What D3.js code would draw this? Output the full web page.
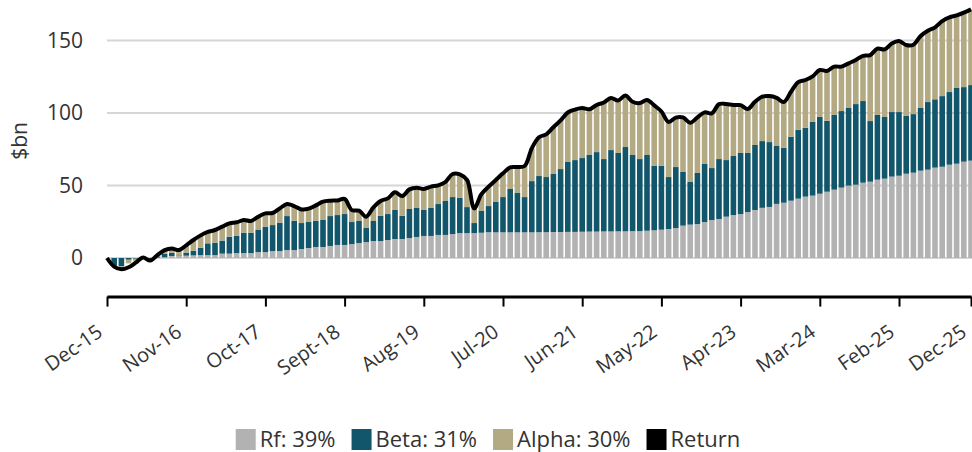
<!DOCTYPE html>
<html>
<head>
<meta charset="utf-8">
<script src="https://cdn.jsdelivr.net/npm/d3@7"></script>
<style>
    body { margin: 0; background: #fff; }
    text { font-family: "Open Sans", sans-serif; fill: #333; }
</style>
</head>
<body>
<svg id="chart" width="972" height="452"></svg>
<script>
// monthly, Dec-15 .. Dec-25 ($bn, cumulative)
var months = d3.timeMonth.range(new Date(2015, 11, 1), new Date(2026, 0, 1));

var rf = [0, 0, 0, 0, 0, 0.1, 0.2, 0.3, 0.5, 1.4,
    1.4, 1.6, 1.8, 2, 2, 2, 3, 3, 3.4, 3.4,
    3.4, 4.1, 4.1, 4.8, 4.8, 5.5, 5.5, 6.2, 6.9, 7.6,
    7.6, 8.3, 9, 9, 9.6, 10.3, 11, 11.7, 11.7, 12.4,
    13.1, 13.1, 13.8, 14.5, 15.2, 15.2, 15.9, 15.9, 16.5, 17.2,
    17.2, 17.2, 17.4, 17.8, 17.7, 17.7, 17.7, 17.7, 17.7, 17.7,
    17.8, 17.8, 17.9, 17.9, 18, 18, 18.1, 18.2, 18.2, 18.3,
    18.3, 18.4, 18.4, 18.5, 18.6, 18.8, 19.1, 19.5, 20, 20.6,
    22.3, 23, 23.4, 24.8, 26.2, 26.9, 28.5, 29.6, 30.3, 31.7,
    33.1, 34.6, 35.2, 37.3, 38.1, 39.5, 40.9, 42.3, 43, 44.3,
    45.7, 47.1, 48.5, 49.9, 50.5, 51.9, 52.6, 54, 54.7, 56.1,
    56.7, 58.1, 58.8, 60.2, 60.9, 62.3, 62.9, 64.3, 65, 66.4,
    67.1];

var beta = [0, -5.3, -5.8, -1.2, -0.5, 0.1, -1, 0.8, 2.3, 2.3,
    0.4, 2.1, 3.2, 5.1, 8.1, 8.6, 9, 11.7, 11.8, 14.1,
    14.1, 15.2, 17.5, 17.9, 19.6, 23.4, 20.1, 17.9, 17.9, 18.1,
    18.6, 20.6, 20.6, 21.3, 15.2, 15.2, 9.7, 13.8, 17.5, 17.9,
    20, 16.1, 20, 20, 17.9, 19.3, 21.3, 23.4, 25.5, 24.2,
    17.9, 6.9, 15, 18, 20.9, 24.3, 29.9, 27.1, 24.3, 35.3,
    38.7, 38, 40, 43.4, 48.2, 49.5, 50.8, 52.8, 54.8, 49.9,
    56.1, 54, 58.1, 52.5, 49.6, 52.2, 44.4, 44, 35.8, 42.1,
    37, 29.4, 35.2, 40, 35.8, 41.3, 39, 40.7, 42.1, 40.7,
    44.8, 46, 44.7, 39.9, 37.9, 44.1, 47.5, 47.5, 51, 53.1,
    48.9, 51.5, 52.8, 53.5, 55.6, 56.3, 41.8, 44.6, 42.5, 44.5,
    43.9, 39.8, 40.4, 43.2, 46.6, 47.1, 48.7, 50.1, 52.2, 51.4,
    52.1];

var alpha = [0, -0.7, -2, -2.5, -1.5, 0.1, -0.6, 0.9, 2.6, 2.9,
    3.7, 5, 7.4, 8.5, 7.9, 8.7, 9.6, 9.2, 9.4, 8.7,
    8, 9.2, 9.2, 8.3, 9.8, 8.3, 10.2, 9.4, 9.2, 10.6,
    12.6, 10.6, 10.1, 10.4, 8.2, 7.1, 7.8, 9.4, 10.1, 10.8,
    12.2, 13.5, 13.5, 14, 14.5, 14.7, 12.9, 13.1, 15.9, 16.3,
    18.7, 10.1, 11.6, 13.4, 15.2, 16.4, 14.9, 17.9, 21.4, 22.6,
    26.7, 29.4, 32.2, 33.5, 34.1, 34.8, 34.5, 31.5, 32.5, 39,
    35.9, 36.2, 35.5, 36.7, 38.6, 37.9, 41.7, 37.5, 38, 34.1,
    37.6, 40.9, 38.3, 35.6, 37.7, 37.9, 38.6, 35.1, 33, 30.3,
    29.8, 30.6, 31.7, 33.2, 31.5, 31, 32.9, 32.9, 31.2, 32.2,
    34.3, 33.3, 30.6, 30.8, 30.4, 31.2, 45.5, 45.7, 46.6, 47.3,
    49, 48.9, 47.8, 49.6, 49.2, 49.6, 51.7, 51.5, 50, 51.3,
    52.2];

var totalReturn = [0, -6, -7.8, -6.4, -3.2, 0.3, -1.8, 2, 5.4, 6.6,
    5.5, 8.7, 12.4, 15.6, 18, 19.3, 21.6, 23.9, 24.6, 26.2,
    25.5, 28.5, 30.8, 31, 34.2, 37.2, 35.8, 33.5, 34, 36.3,
    38.8, 39.5, 39.7, 40.7, 33, 32.6, 28.5, 34.9, 39.3, 41.1,
    45.3, 42.7, 47.3, 48.5, 47.6, 49.2, 50.1, 52.4, 57.9, 57.7,
    53.8, 34.2, 44, 49.2, 53.8, 58.4, 62.5, 62.7, 63.4, 75.6,
    83.2, 85.2, 90.1, 94.8, 100.3, 102.3, 103.4, 102.5, 105.5, 107.2,
    110.3, 108.6, 112, 107.7, 106.8, 108.9, 105.2, 101, 93.8, 96.8,
    96.9, 93.3, 96.9, 100.4, 99.7, 106.1, 106.1, 105.4, 105.4, 102.7,
    107.7, 111.2, 111.6, 110.4, 107.5, 114.6, 121.3, 122.7, 125.2, 129.6,
    128.9, 131.9, 131.9, 134.2, 136.5, 139.4, 139.9, 144.3, 143.8, 147.9,
    149.6, 146.8, 147, 153, 156.7, 159, 163.3, 165.9, 167.2, 169.1,
    171.4];

var tickIndex = [0, 11, 22, 33, 44, 55, 66, 77, 88, 99, 110, 120];
var tickLabels = ["Dec-15", "Nov-16", "Oct-17", "Sept-18", "Aug-19", "Jul-20",
    "Jun-21", "May-22", "Apr-23", "Mar-24", "Feb-25", "Dec-25"];
var yTicks = [0, 50, 100, 150];

var seriesKeys = ["rf", "beta", "alpha"];
var legendLabels = ["Rf: 39%", "Beta: 31%", "Alpha: 30%", "Return"];
var colors = {
    rf: "#b2b2b2",
    beta: "#12566b",
    alpha: "#b3aa84",
    ret: "#000000"
};

var svg = d3.select("#chart");

var xScale = d3.scalePoint()
    .domain(d3.range(months.length))
    .range([107, 971]);

var yScale = d3.scaleLinear()
    .domain([0, 150])
    .range([258, 40.4]);

var yMin = -26.6;
var barWidth = 5.6;

// gridlines
svg.append("g")
    .selectAll("line")
    .data(yTicks)
    .enter().append("line")
    .attr("x1", 107)
    .attr("x2", 972)
    .attr("y1", function(d) { return yScale(d); })
    .attr("y2", function(d) { return yScale(d); })
    .attr("stroke", "#d6d6d6")
    .attr("stroke-width", 2);

svg.append("g")
    .selectAll("text")
    .data(yTicks)
    .enter().append("text")
    .attr("x", 83)
    .attr("y", function(d) { return yScale(d); })
    .attr("dy", ".35em")
    .attr("text-anchor", "end")
    .style("font-size", "21px")
    .text(function(d) { return d; });

svg.append("text")
    .attr("transform", "translate(27,141) rotate(-90)")
    .attr("text-anchor", "middle")
    .style("font-size", "21px")
    .text("$bn");

// stacked bars
var rows = months.map(function(m, i) {
    return { i: i, rf: rf[i], beta: beta[i], alpha: alpha[i] };
});

var stack = d3.stack()
    .keys(seriesKeys)
    .offset(d3.stackOffsetDiverging);

var layers = stack(rows);

svg.append("g")
    .selectAll("g")
    .data(layers)
    .enter().append("g")
    .attr("fill", function(d) { return colors[d.key]; })
    .selectAll("rect")
    .data(function(d) { return d; })
    .enter().append("rect")
    .attr("x", function(d) { return xScale(d.data.i) - barWidth / 2; })
    .attr("width", barWidth)
    .attr("y", function(d) { return yScale(Math.max(d[0], d[1])); })
    .attr("height", function(d) { return Math.abs(yScale(d[0]) - yScale(d[1])); });

// return line
var line = d3.line()
    .x(function(d, i) { return xScale(i); })
    .y(function(d) { return yScale(d); })
    .curve(d3.curveCatmullRom.alpha(0.5));

svg.append("path")
    .datum(totalReturn)
    .attr("d", line)
    .attr("fill", "none")
    .attr("stroke", colors.ret)
    .attr("stroke-width", 4)
    .attr("stroke-linejoin", "round");

// x axis
var xAxis = d3.axisBottom(xScale)
    .tickValues(tickIndex)
    .tickSize(10)
    .tickSizeOuter(0)
    .tickFormat("");

var axisG = svg.append("g")
    .attr("transform", "translate(0," + yScale(yMin) + ")")
    .call(xAxis);

axisG.select(".domain")
    .attr("stroke", "#000")
    .attr("stroke-width", 3);
axisG.selectAll(".tick line")
    .attr("stroke", "#000")
    .attr("stroke-width", 2);

svg.append("g")
    .selectAll("text")
    .data(tickIndex)
    .enter().append("text")
    .attr("transform", function(d) {
        return "translate(" + (xScale(d) - 3) + ",335) rotate(-35)";
    })
    .attr("text-anchor", "end")
    .style("font-size", "20px")
    .text(function(d, i) { return tickLabels[i]; });

// legend
var legendColors = [colors.rf, colors.beta, colors.alpha, colors.ret];
var legend = svg.append("g");
var lx = 0;
legendLabels.forEach(function(lbl, i) {
    var item = legend.append("g").attr("transform", "translate(" + lx + ",0)");
    item.append("rect")
        .attr("x", 0)
        .attr("y", 429)
        .attr("width", 20)
        .attr("height", 21)
        .attr("fill", legendColors[i]);
    var t = item.append("text")
        .attr("x", 24)
        .attr("y", 447)
        .style("font-size", "22px")
        .text(lbl);
    lx += 24 + t.node().getComputedTextLength() + 16;
});
lx -= 16;
legend.attr("transform", "translate(" + (488 - lx / 2) + ",0)");
</script>
</body>
</html>
